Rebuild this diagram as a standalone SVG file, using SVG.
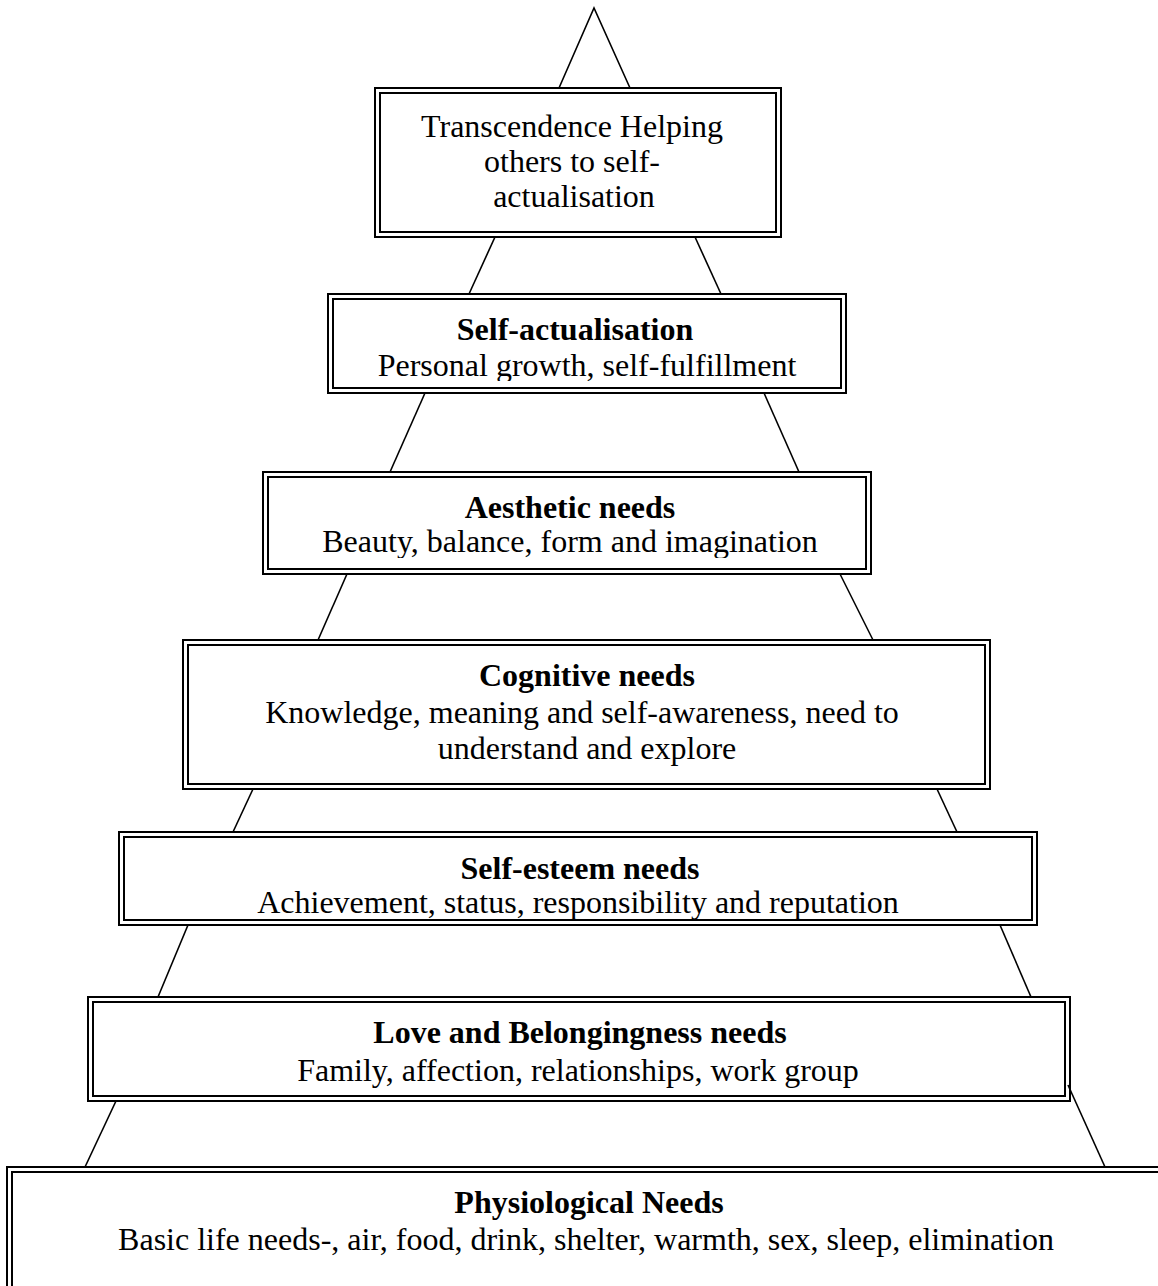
<svg xmlns="http://www.w3.org/2000/svg" width="1158" height="1286" viewBox="0 0 1158 1286">
<style>
.o{fill:none;stroke:#000;stroke-width:2}
.t{font-family:"Liberation Serif","Times New Roman",serif;font-size:32px;fill:#000;text-anchor:middle}
.b{font-weight:bold}
.c{fill:none;stroke:#000;stroke-width:1.6}
</style>
<defs>
<clipPath id="c2"><rect x="0" y="0" width="1158" height="381"/></clipPath>
<clipPath id="c3"><rect x="0" y="0" width="1158" height="558"/></clipPath>
<clipPath id="c5"><rect x="0" y="0" width="1158" height="919"/></clipPath>
<clipPath id="c6"><rect x="0" y="0" width="1158" height="1089"/></clipPath>
</defs>
<rect width="1158" height="1286" fill="#fff"/>
<g id="connectors">
<polyline class="c" points="559,88 594,8 630,88"/>
<line class="c" x1="495" y1="237" x2="469" y2="294"/>
<line class="c" x1="695" y1="237" x2="721" y2="294"/>
<line class="c" x1="425" y1="393" x2="390" y2="472"/>
<line class="c" x1="764" y1="393" x2="799" y2="472"/>
<line class="c" x1="347" y1="574" x2="318" y2="640"/>
<line class="c" x1="840" y1="574" x2="873" y2="640"/>
<line class="c" x1="253" y1="789" x2="233" y2="832"/>
<line class="c" x1="937" y1="789" x2="957" y2="832"/>
<line class="c" x1="188" y1="925" x2="158" y2="997"/>
<line class="c" x1="1000" y1="925" x2="1031" y2="997"/>
<line class="c" x1="116" y1="1101" x2="85" y2="1167"/>
<line class="c" x1="1068" y1="1085" x2="1105" y2="1167"/>
</g>
<g id="transcendence">
<rect class="o" x="375" y="88" width="406" height="149"/>
<rect class="o" x="380" y="93" width="396" height="139"/>
<text class="t" x="572" y="137">Transcendence Helping</text>
<text class="t" x="572" y="172">others to self-</text>
<text class="t" x="574" y="207">actualisation</text>
</g>
<g id="self-actualisation">
<rect class="o" x="328" y="294" width="518" height="99"/>
<rect class="o" x="333" y="299" width="508" height="89"/>
<text class="t b" x="575" y="340">Self-actualisation</text>
<text class="t" x="587" y="376" clip-path="url(#c2)">Personal growth, self-fulfillment</text>
</g>
<g id="aesthetic">
<rect class="o" x="263" y="472" width="608" height="102"/>
<rect class="o" x="268" y="477" width="598" height="92"/>
<text class="t b" x="570" y="518">Aesthetic needs</text>
<text class="t" x="570" y="552" clip-path="url(#c3)">Beauty, balance, form and imagination</text>
</g>
<g id="cognitive">
<rect class="o" x="183" y="640" width="807" height="149"/>
<rect class="o" x="188" y="645" width="797" height="139"/>
<text class="t b" x="587" y="686">Cognitive needs</text>
<text class="t" x="582" y="723">Knowledge, meaning and self-awareness, need to</text>
<text class="t" x="587" y="759">understand and explore</text>
</g>
<g id="self-esteem">
<rect class="o" x="119" y="832" width="918" height="93"/>
<rect class="o" x="124" y="837" width="908" height="83"/>
<text class="t b" x="580" y="879">Self-esteem needs</text>
<text class="t" x="578" y="913" clip-path="url(#c5)">Achievement, status, responsibility and reputation</text>
</g>
<g id="love">
<rect class="o" x="88" y="997" width="982" height="104"/>
<rect class="o" x="93" y="1002" width="972" height="94"/>
<text class="t b" x="580" y="1043">Love and Belongingness needs</text>
<text class="t" x="578" y="1081" clip-path="url(#c6)">Family, affection, relationships, work group</text>
</g>
<g id="physiological">
<rect class="o" x="7" y="1167" width="1170" height="140"/>
<rect class="o" x="12" y="1172" width="1160" height="130"/>
<text class="t b" x="589" y="1213">Physiological Needs</text>
<text class="t" x="586" y="1250">Basic life needs-, air, food, drink, shelter, warmth, sex, sleep, elimination</text>
</g>
</svg>
